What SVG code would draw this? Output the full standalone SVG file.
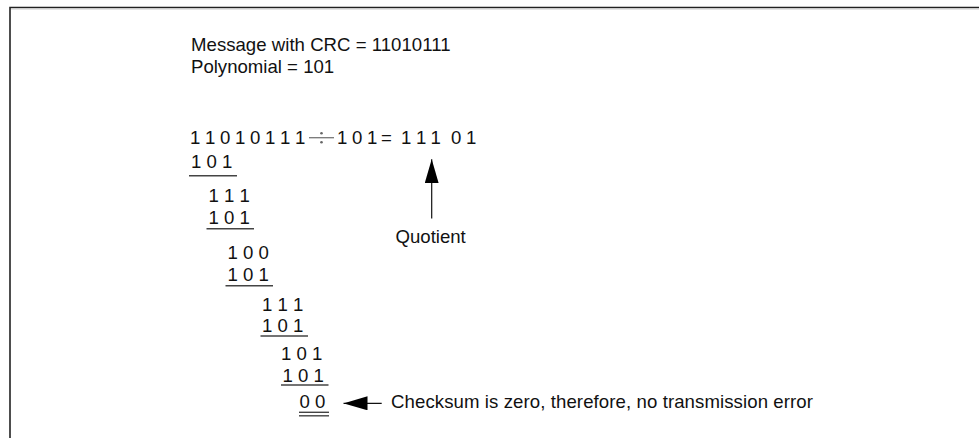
<svg xmlns="http://www.w3.org/2000/svg" width="979" height="438" viewBox="0 0 979 438">
  <style>
    text { font-family: "Liberation Sans", Arial, sans-serif; font-size: 18.6px; fill: #111; }
    .rule { stroke: #444; stroke-width: 1.4; fill: none; }
    .frame { stroke: #222; stroke-width: 1.6; fill: none; }
    .conn { stroke: #111; stroke-width: 1.2; fill: none; }
    .div { stroke: #777; stroke-width: 1.3; fill: none; }
  </style>
  <defs>
    <marker id="head" viewBox="0 0 24 14" refX="24" refY="7" markerWidth="24" markerHeight="14" markerUnits="userSpaceOnUse" orient="auto">
      <path d="M0,0 L24,7 L0,14 Z" fill="#000"/>
    </marker>
  </defs>
  <rect width="979" height="438" fill="#fff"/>

  <!-- page frame -->
  <path class="frame" d="M10,438 V7.5 H979"/>
  <line x1="11" y1="9" x2="979" y2="9" stroke="#ccc" stroke-width="1"/>

  <!-- header -->
  <g id="header">
    <text x="191" y="51" textLength="259.5" lengthAdjust="spacing">Message with CRC = 11010111</text>
    <text x="191" y="72.5">Polynomial = 101</text>
  </g>

  <!-- division line: dividend ÷ divisor = quotient -->
  <g id="division">
    <text x="190 205 220 235 250 265 280 295" y="144">11010111</text>
    <line class="div" x1="309" y1="137.7" x2="334" y2="137.7"/>
    <circle cx="321.5" cy="133.3" r="1.3" fill="#666"/>
    <circle cx="321.5" cy="142.2" r="1.3" fill="#666"/>
    <text x="337 352 367" y="144">101</text>
    <text x="381" y="144">=</text>
    <text x="401 416 430.5" y="144">111</text>
    <text x="451 466" y="144">01</text>
  </g>

  <!-- long division steps -->
  <g id="steps">
    <text x="191" y="167.5">1 0 1</text>
    <line class="rule" x1="189" y1="175.7" x2="237" y2="175.7"/>
    <text x="208.5" y="201.5">1 1 1</text>
    <text x="208.5" y="224">1 0 1</text>
    <line class="rule" x1="206.5" y1="228.7" x2="254" y2="228.7"/>
    <text x="227.5" y="258.5">1 0 0</text>
    <text x="227.5" y="281">1 0 1</text>
    <line class="rule" x1="225.5" y1="285.7" x2="273" y2="285.7"/>
    <text x="262" y="310.5">1 1 1</text>
    <text x="262" y="332.3">1 0 1</text>
    <line class="rule" x1="260.5" y1="336" x2="308" y2="336"/>
    <text x="281" y="360">1 0 1</text>
    <text x="282.5" y="381.7">1 0 1</text>
    <line class="rule" x1="281" y1="385" x2="328.5" y2="385"/>
    <text x="299.5" y="408.3">0 0</text>
    <line class="rule" x1="299" y1="412.3" x2="329" y2="412.3"/>
    <line class="rule" x1="299" y1="415.8" x2="329" y2="415.8"/>
  </g>

  <!-- annotations -->
  <g id="quotient-label">
    <text x="395.5" y="242.7">Quotient</text>
  </g>
  <g id="checksum-label">
    <text x="391" y="408.3" textLength="422" lengthAdjust="spacing">Checksum is zero, therefore, no transmission error</text>
  </g>

  <!-- connectors -->
  <g id="connectors">
    <line class="conn" x1="431.7" y1="218.5" x2="431.7" y2="159.3" marker-end="url(#head)"/>
    <line class="conn" x1="381.7" y1="403.3" x2="343.5" y2="403.3" marker-end="url(#head)"/>
  </g>
</svg>
